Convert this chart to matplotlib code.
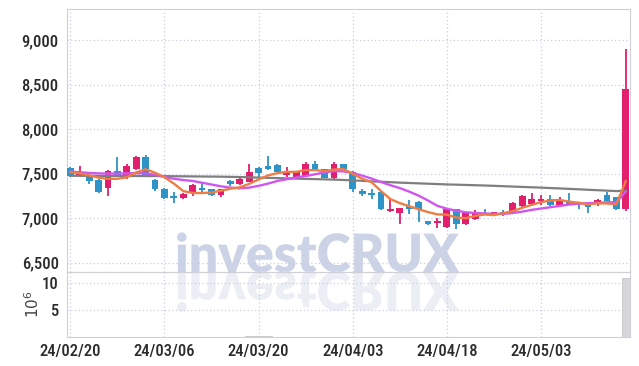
import numpy as np
import matplotlib
matplotlib.use("Agg")
import matplotlib.pyplot as plt
from matplotlib.textpath import TextPath
from matplotlib.patches import PathPatch
from matplotlib.font_manager import FontProperties, findfont
from matplotlib.transforms import Affine2D

# pick a narrow face if one is installed
label_font = "DejaVu Sans"
for fam in ["Liberation Sans Narrow", "Roboto Condensed", "Roboto"]:
    try:
        findfont(FontProperties(family=fam), fallback_to_default=False)
        label_font = fam
        break
    except ValueError:
        pass
plt.rcParams['font.family'] = [label_font, 'DejaVu Sans']

# --- data ---
dates = ["24/02/20", "24/03/06", "24/03/20", "24/04/03", "24/04/18", "24/05/03"]
date_idx = [0, 10, 20, 30, 40, 50]

opens = [7560, 7476, 7469, 7427, 7345, 7528, 7483, 7550, 7693, 7431,
         7334, 7250, 7228, 7300, 7337, 7326, 7266, 7420, 7386, 7412,
         7570, 7588, 7600, 7487, 7457, 7476, 7607, 7550, 7457, 7607,
         7525, 7307, 7290, 7300, 7078, 7060, 7138, 7183, 6970, 6944,
         6902, 7100, 6933, 6989, 7063, 7048, 7066, 7063, 7138, 7165,
         7200, 7220, 7146, 7183, 7176, 7165, 7157, 7258, 7240, 7100]
closes = [7472, 7503, 7419, 7296, 7528, 7476, 7588, 7693, 7476, 7326,
          7228, 7228, 7273, 7370, 7323, 7258, 7326, 7386, 7446, 7520,
          7506, 7550, 7520, 7514, 7520, 7607, 7550, 7457, 7607, 7550,
          7334, 7278, 7266, 7100, 7100, 7112, 7100, 7100, 6937, 6970,
          7100, 6940, 7063, 7063, 7048, 7066, 7052, 7176, 7250, 7213,
          7220, 7146, 7200, 7154, 7157, 7127, 7202, 7195, 7109, 8457]
highs = [7580, 7584, 7480, 7440, 7540, 7693, 7607, 7700, 7710, 7440,
         7340, 7295, 7285, 7390, 7401, 7330, 7330, 7430, 7460, 7607,
         7580, 7700, 7605, 7580, 7525, 7630, 7640, 7555, 7630, 7612,
         7530, 7330, 7334, 7305, 7213, 7120, 7205, 7190, 6975, 7008,
         7105, 7105, 7070, 7093, 7100, 7072, 7093, 7180, 7260, 7290,
         7258, 7258, 7235, 7290, 7180, 7170, 7215, 7296, 7245, 8899]
lows = [7460, 7470, 7382, 7290, 7250, 7470, 7446, 7545, 7470, 7310,
        7220, 7168, 7222, 7250, 7300, 7250, 7235, 7360, 7380, 7405,
        7461, 7545, 7515, 7460, 7450, 7470, 7545, 7450, 7430, 7545,
        7295, 7250, 7213, 7095, 7070, 6933, 7045, 6963, 6930, 6888,
        6895, 6885, 6925, 6985, 7037, 7030, 7030, 7058, 7130, 7160,
        7146, 7140, 7140, 7148, 7109, 7063, 7140, 7190, 7093, 7081]
volume = [0.02, 0.02, 0.02, 0.03, 0.03, 0.02, 0.02, 0.03, 0.03, 0.02,
          0.03, 0.02, 0.02, 0.02, 0.02, 0.02, 0.02, 0.02, 0.03, 0.18,
          0.22, 0.15, 0.03, 0.02, 0.02, 0.03, 0.02, 0.02, 0.03, 0.02,
          0.03, 0.02, 0.02, 0.03, 0.02, 0.02, 0.02, 0.02, 0.03, 0.02,
          0.03, 0.03, 0.02, 0.02, 0.02, 0.02, 0.02, 0.02, 0.02, 0.02,
          0.02, 0.02, 0.02, 0.02, 0.02, 0.02, 0.02, 0.02, 0.02, 10.9]

ma5 = [7520, 7506, 7483, 7457, 7444, 7444, 7461, 7516, 7552, 7512,
       7462, 7390, 7306, 7285, 7284, 7290, 7310, 7333, 7348, 7387,
       7437, 7482, 7508, 7522, 7522, 7542, 7542, 7530, 7548, 7554,
       7500, 7445, 7407, 7306, 7216, 7171, 7136, 7102, 7070, 7044,
       7041, 7009, 7002, 7027, 7043, 7036, 7058, 7081, 7118, 7151,
       7182, 7201, 7206, 7187, 7175, 7157, 7168, 7167, 7158, 7418]
ma20 = [7525, 7518, 7510, 7505, 7503, 7503, 7505, 7508, 7505, 7490,
        7465, 7445, 7430, 7420, 7400, 7380, 7360, 7345, 7338, 7345,
        7365, 7390, 7420, 7440, 7458, 7475, 7495, 7515, 7530, 7528,
        7510, 7480, 7447, 7408, 7372, 7340, 7300, 7255, 7200, 7140,
        7108, 7085, 7068, 7060, 7055, 7050, 7050, 7060, 7075, 7095,
        7110, 7125, 7140, 7155, 7165, 7170, 7175, 7180, 7182, 7300]
ma60 = [7478, 7478, 7477, 7477, 7476, 7476, 7476, 7476, 7475, 7475,
        7474, 7473, 7472, 7471, 7470, 7469, 7468, 7466, 7464, 7461,
        7458, 7455, 7452, 7449, 7446, 7443, 7441, 7438, 7435, 7431,
        7426, 7421, 7416, 7411, 7406, 7401, 7397, 7393, 7389, 7385,
        7381, 7378, 7375, 7372, 7369, 7365, 7361, 7357, 7353, 7349,
        7345, 7340, 7336, 7331, 7326, 7321, 7316, 7311, 7306, 7312]

UP, DOWN = "#e11f6c", "#2e93c6"
GRID = "#c9cde0"
SPINE = "#d0d0d6"
TXT = "#2b2b2b"
narrow = label_font in ("Liberation Sans Narrow", "Roboto Condensed")
ysize = 12 if narrow else 10.5
xsize = 12 if narrow else 9.8

fig = plt.figure(figsize=(6.39, 3.66), dpi=100)
ax = fig.add_axes([67/639, 1 - 272/366, 563/639, 263/366])
axv = fig.add_axes([67/639, 1 - 337/366, 563/639, 65/366], sharex=ax)
for a in (ax, axv):
    a.set_facecolor("none")
    for s in a.spines.values():
        s.set_color(SPINE)
    a.grid(True, color=GRID, linestyle=(0, (1, 2)), linewidth=0.9)
    a.set_axisbelow(True)
    a.tick_params(length=0, labelsize=ysize, colors=TXT, pad=6)

x = np.arange(len(opens))
o, c = np.array(opens), np.array(closes)
cols = [UP if cc >= oo else DOWN for oo, cc in zip(o, c)]
ax.vlines(x, lows, highs, colors=cols, linewidth=1.3, zorder=3)
body = np.maximum(np.abs(c - o), 12)
ax.bar(x, body, bottom=np.minimum(o, c), width=0.72, color=cols, zorder=4)
ax.plot(x, ma60, color="#7f7f7f", lw=1.6, zorder=5)
ax.plot(x, ma20, color="#cf56ef", lw=1.7, zorder=5)
ax.plot(x, ma5, color="#ee7d45", lw=1.7, zorder=5)

yt = [6500, 7000, 7500, 8000, 8500, 9000]
ax.set_ylim(6397, 9352)
ax.set_yticks(yt)
ax.set_yticklabels([f"{v:,}" for v in yt], fontweight="medium")
ax.set_xlim(-0.35, 59.45)
ax.tick_params(labelbottom=False)

axv.bar(x, volume, width=0.9, color="#d6d6db", edgecolor="#c4c4ca", linewidth=0.6, zorder=3)
axv.set_ylim(0, 12.06)
axv.set_yticks([5, 10])
axv.set_yticklabels(["5", "10"], fontweight="medium")
axv.set_xticks(date_idx)
axv.set_xticklabels(dates, fontsize=xsize, fontweight="medium")
axv.tick_params(axis="x", pad=5)
axv.set_ylabel("$10^6$", fontsize=11, color="#444444", labelpad=0)

# watermark with reflection, drawn in pixel coords
fp = FontProperties(family=["Lato", "DejaVu Sans"], weight="heavy")
tp = TextPath((0, 0), "investCRUX", size=100, prop=fp)
bb = tp.get_extents()
sx = 282 / bb.width
sy = 38 / 72.0
x0, base = 177, 366 - 272
t_main = Affine2D().translate(-bb.x0, 0).scale(sx, sy).translate(x0, base)
t_refl = Affine2D().translate(-bb.x0, 0).scale(sx, -sy).translate(x0, base)
fig.add_artist(PathPatch(tp, transform=t_main, color="#cdd3e6", lw=0, zorder=-1))
fig.add_artist(PathPatch(tp, transform=t_refl, color="#eceef5", lw=0, zorder=-1))

fig.savefig("out.png", dpi=100, facecolor="white")
